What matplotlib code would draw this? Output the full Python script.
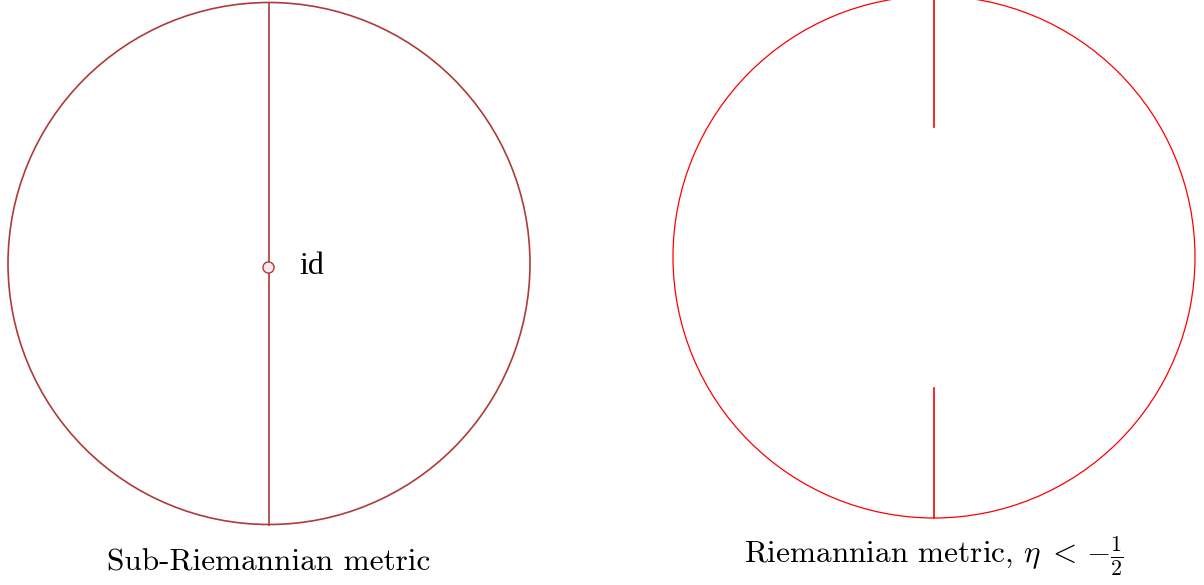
import numpy as np
import matplotlib
matplotlib.use("Agg")
import matplotlib.pyplot as plt
from matplotlib.patches import Circle

plt.rcParams['mathtext.fontset'] = 'cm'

# geometry (pixel units)
left_center = (269, 263.5)
left_radius = 261
right_center = (934, 257)
right_radius = 261
right_gap = (127, 388)  # vertical segment removed between these y values
id_point = (268, 267)

left_color = '#ad3b3b'
right_color = '#ff0000'

fig = plt.figure(figsize=(12.04, 5.85), dpi=100)
ax = fig.add_axes([0, 0, 1, 1])
ax.set_xlim(0, 1204)
ax.set_ylim(585, 0)
ax.axis('off')

# left panel
ax.add_patch(Circle(left_center, left_radius, fill=False, ec=left_color, lw=1.2))
ax.plot([left_center[0], left_center[0]],
        [left_center[1] - left_radius, left_center[1] + left_radius],
        color=left_color, lw=1.2)
ax.plot([id_point[0]], [id_point[1]], 'o', ms=8, mfc='#fde8ee', mec=left_color, mew=1.0)
ax.text(id_point[0] + 31, id_point[1], 'id', fontsize=23, family='Liberation Serif',
        va='center', ha='left')
ax.text(left_center[0], 563, 'Sub-Riemannian metric', fontsize=22.5, family='cmr10',
        ha='center', va='center')

# right panel
ax.add_patch(Circle(right_center, right_radius, fill=False, ec=right_color, lw=0.9))
ax.plot([right_center[0], right_center[0]],
        [right_center[1] - right_radius, right_gap[0]], color=right_color, lw=1.2)
ax.plot([right_center[0], right_center[0]],
        [right_gap[1], right_center[1] + right_radius], color=right_color, lw=1.2)
ax.text(right_center[0], 556, r'Riemannian metric, $\eta\;<\,{-}\frac{1}{2}$', fontsize=22.5,
        family='cmr10', ha='center', va='center')

fig.savefig('out.png', dpi=100)
